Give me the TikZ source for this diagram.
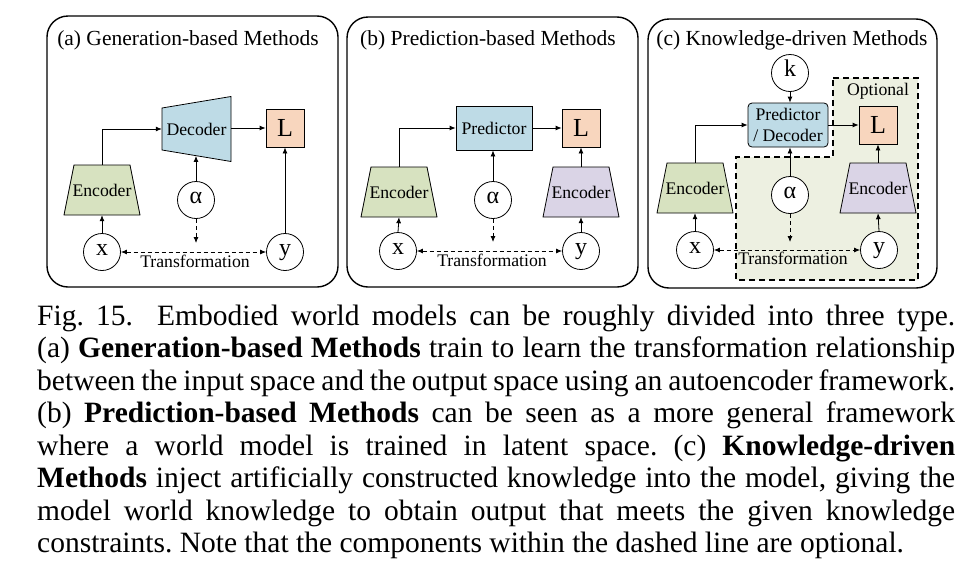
\documentclass[tikz,border=0pt]{standalone}
\usepackage{fontspec}
\setmainfont{Liberation Serif}
\usetikzlibrary{arrows.meta,calc}
\definecolor{encgreen}{HTML}{D7E2C0}
\definecolor{decblue}{HTML}{BEDBE6}
\definecolor{losspeach}{HTML}{F8D6BE}
\definecolor{enclav}{HTML}{DAD4E6}
\definecolor{optbg}{HTML}{EDF0E1}
\newcommand{\nodefont}{\fontsize{17.7}{20}\selectfont}
\newcommand{\titlefont}{\fontsize{21.5}{24}\selectfont}
\newcommand{\symfont}{\fontsize{24}{26}\selectfont}
\newcommand{\mkenc}[4]{%
  \filldraw[fill=#4, nodeline] (#2-28,#3-25) -- (#2+28,#3-25) -- (#2+38,#3+25) -- (#2-38,#3+25) -- cycle;
  \node[trapbox] (#1) at (#2,#3) {Encoder};}
\begin{document}
\begin{tikzpicture}[x=1pt,y=-1pt,
  nodeline/.style={draw=black, line width=0.8pt},
  panel/.style={draw=black, line width=1.4pt, rounded corners=21pt},
  arr/.style={-{Latex[length=6pt,width=5pt]}, line width=0.8pt},
  darr/.style={-{Latex[length=6pt,width=5pt]}, line width=0.8pt, dash pattern=on 4pt off 3pt},
  ddarr/.style={{Latex[length=6pt,width=5pt]}-{Latex[length=6pt,width=5pt]}, line width=0.8pt, dash pattern=on 4pt off 3pt},
  circ/.style={circle, nodeline, fill=white, minimum size=37pt, inner sep=0pt, font=\symfont, text height=11pt, text depth=4pt},
  lossbox/.style={rectangle, nodeline, fill=losspeach, minimum size=38pt, inner sep=0pt, font=\fontsize{26}{26}\selectfont},
  trapbox/.style={rectangle, minimum width=76pt, minimum height=50pt, inner sep=0pt, font=\nodefont},
  title/.style={anchor=base, inner sep=0pt, font=\titlefont},
  lbl/.style={anchor=base, inner sep=0pt, font=\nodefont}
]
\useasboundingbox (0,0) rectangle (966,568);

% ---------------- panel (a)
\draw[panel] (47,16) rectangle (338,287);
\node[title] (ta) at (188,45) {(a) Generation-based Methods};
\filldraw[fill=decblue, nodeline] (162,108) -- (231,96.5) -- (231,161.5) -- (162,150) -- cycle;
\node[rectangle, minimum width=69pt, minimum height=53.5pt, inner sep=0pt, font=\nodefont] (decA) at (196.5,129) {Decoder};
\node[lossbox] (LA) at (285,128) {L};
\mkenc{encA}{102}{190}{encgreen}
\node[circ] (alA) at (196,200) {α};
\node[circ] (xA) at (102,252) {x};
\node[circ] (yA) at (285,252) {y};
\coordinate (tA) at (196,243);
\draw[arr] (encA.north) |- (decA.west);
\draw[arr] (decA.east |- LA.west) -- (LA.west);
\draw[arr] (alA.north) -- (alA |- decA.south);
\draw[darr] (alA.south) -- (tA);
\draw[ddarr] (xA.east) -- (yA.west);
\draw[arr] (xA.north) -- (encA.south);
\draw[arr] (yA.north) -- (LA.south);
\node[lbl] (trA) at (195,267) {Transformation};

% ---------------- panel (b)
\draw[panel] (347,17) rectangle (638,287);
\node[title] (tb) at (488,45) {(b) Prediction-based Methods};
\node[rectangle, nodeline, fill=decblue, minimum width=76pt, minimum height=44pt, inner sep=0pt, font=\nodefont] (predB) at (494,128) {Predictor};
\node[lossbox] (LB) at (581,128) {L};
\mkenc{encB}{399}{192}{encgreen}
\mkenc{encB2}{581}{192}{enclav}
\node[circ] (alB) at (493,200) {α};
\node[circ] (xB) at (398,251) {x};
\node[circ] (yB) at (581,251) {y};
\coordinate (tB) at (493,242);
\draw[arr] (encB.north) |- (predB.west);
\draw[arr] (predB.east) -- (LB.west);
\draw[arr] (alB.north) -- (alB |- predB.south);
\draw[darr] (alB.south) -- (tB);
\draw[ddarr] (xB.east) -- (yB.west);
\draw[arr] (xB.north) -- (encB.south);
\draw[arr] (yB.north) -- (encB2.south);
\draw[arr] (encB2.north) -- (LB.south);
\node[lbl] (trB) at (492,266) {Transformation};

% ---------------- panel (c)
\draw[panel] (648,19) rectangle (937,288);
\node[title] (tc) at (792,45) {(c) Knowledge-driven Methods};
\filldraw[fill=optbg, draw=black, line width=1.3pt, dash pattern=on 6pt off 4pt]
  (833,78) -- (918,78) -- (918,280) -- (736,280) -- (736,157) -- (833,157) -- cycle;
\node[lbl] (opt) at (878,95) {Optional};
\node[circ] (kC) at (790,73) {k};
\node[rectangle, rounded corners=4pt, nodeline, fill=decblue, minimum width=80pt, minimum height=44pt, inner sep=0pt, align=center, font=\fontsize{17.7}{21}\selectfont] (predC) at (788,125) {Predictor\\/ Decoder};
\node[lossbox] (LC) at (878,125) {L};
\mkenc{encC}{695}{188}{encgreen}
\mkenc{encC2}{878}{188}{enclav}
\node[circ] (alC) at (790,195) {α};
\node[circ] (xC) at (695,250) {x};
\node[circ] (yC) at (879,250) {y};
\coordinate (tC) at (790,242);
\draw[arr] (kC.south) -- (kC |- predC.north);
\draw[arr] (encC.north) |- (predC.west);
\draw[arr] (predC.east) -- (LC.west);
\draw[arr] (alC.north) -- (alC |- predC.south);
\draw[darr] (alC.south) -- (tC);
\draw[ddarr] (xC.east) -- (yC.west);
\draw[arr] (xC.north) -- (encC.south);
\draw[arr] (yC.north) -- (encC2.south);
\draw[arr] (encC2.north) -- (LC.south);
\node[lbl] (trC) at (793,264) {Transformation};

% ---------------- caption
\node[anchor=base west, inner sep=0pt] (cap) at (37,325) {\parbox[t]{918pt}{\fontsize{29.5}{32.57}\selectfont\frenchspacing\hyphenpenalty=10000\exhyphenpenalty=10000
Fig. 15.\hspace{0.4em} Embodied world models can be roughly divided into three type.\linebreak
(a) \textbf{Generation-based Methods} train to learn the transformation relationship\linebreak
between the input space and the output space using an autoencoder framework.\linebreak
(b) \textbf{Prediction-based Methods} can be seen as a more general framework\linebreak
where a world model is trained in latent space. (c) \textbf{Knowledge-driven}\linebreak
\textbf{Methods} inject artificially constructed knowledge into the model, giving the\linebreak
model world knowledge to obtain output that meets the given knowledge\linebreak
constraints. Note that the components within the dashed line are optional.}};
\end{tikzpicture}
\end{document}
